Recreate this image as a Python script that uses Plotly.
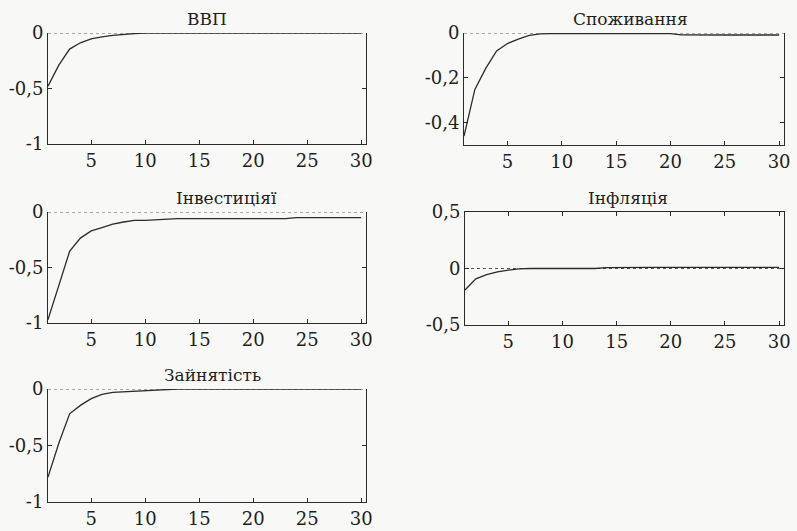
import plotly.graph_objects as go

# Impulse responses over 30 periods
periods = list(range(1, 31))

gdp = [-0.48, -0.29, -0.145, -0.088, -0.053, -0.034, -0.022, -0.013, -0.005, -0.002,
       -0.001, 0, 0, 0, 0, 0, 0, 0, 0, 0, 0, 0, 0, 0, 0, 0, 0, 0, 0, 0]

consumption = [-0.46, -0.252, -0.158, -0.08, -0.047, -0.027, -0.011, -0.004, -0.003, -0.003,
               -0.003, -0.003, -0.003, -0.003, -0.003, -0.003, -0.003, -0.003, -0.003, -0.003,
               -0.008, -0.009, -0.009, -0.009, -0.009, -0.009, -0.009, -0.009, -0.009, -0.009]

investment = [-0.97, -0.66, -0.355, -0.235, -0.17, -0.14, -0.11, -0.09, -0.075, -0.075,
              -0.07, -0.06, -0.06, -0.06, -0.06, -0.06, -0.06, -0.06, -0.06, -0.06,
              -0.06, -0.06, -0.06, -0.05, -0.05, -0.05, -0.05, -0.05, -0.05, -0.05]

inflation = [-0.19, -0.092, -0.054, -0.03, -0.015, -0.004, 0, 0, 0, 0,
             0, 0, 0, 0.008, 0.01, 0.01, 0.01, 0.01, 0.01, 0.01,
             0.01, 0.01, 0.01, 0.01, 0.01, 0.01, 0.01, 0.01, 0.01, 0.01]

employment = [-0.78, -0.48, -0.22, -0.145, -0.085, -0.047, -0.03, -0.025, -0.017, -0.01,
              -0.006, -0.003, 0, 0, 0, 0, 0, 0, 0, 0, 0, 0, 0, 0, 0, 0, 0, 0, 0, 0]

titles = ["ВВП", "Споживання", "Інвестиціяї", "Інфляція", "Зайнятість"]
series = [gdp, consumption, investment, inflation, employment]

x_ticks = [5, 10, 15, 20, 25, 30]
x_labels = ["5", "10", "15", "20", "25", "30"]

y_ranges = [[-1, 0], [-0.5, 0], [-1, 0], [-0.5, 0.5], [-1, 0]]
y_ticks = [[-1, -0.5, 0], [-0.4, -0.2, 0], [-1, -0.5, 0], [-0.5, 0, 0.5], [-1, -0.5, 0]]
y_labels = [["-1", "-0,5", "0"], ["-0,4", "-0,2", "0"], ["-1", "-0,5", "0"],
            ["-0,5", "0", "0,5"], ["-1", "-0,5", "0"]]

W, H = 797, 531
# panel boxes in pixels: left, right, top, bottom
boxes = [(48, 366, 33, 144), (464, 784, 33, 145), (48, 366, 212, 323),
         (465, 784, 212, 325), (48, 366, 389, 502)]
title_pos = [0.5, 0.52, 0.56, 0.51, 0.517]

FONT = "DejaVu Serif"
INK = "#2b2b2b"
BG = "#f8f8f6"

fig = go.Figure()
layout = {}
for i, (vals, box) in enumerate(zip(series, boxes)):
    n = "" if i == 0 else str(i + 1)
    xa, ya = "xaxis" + n, "yaxis" + n
    xr, yr = "x" + n, "y" + n
    l, r, t, b = box
    fig.add_trace(go.Scatter(x=periods, y=vals, mode="lines", xaxis=xr, yaxis=yr,
                             line=dict(color=INK, width=1.3), showlegend=False,
                             hoverinfo="skip"))
    top_frame = "ticks" if i == 3 else False
    layout[xa] = dict(domain=[l / W, r / W], anchor=yr, range=[1, 30.45],
                      tickvals=x_ticks, ticktext=x_labels, ticks="inside", ticklen=4,
                      tickcolor=INK, showline=True, linecolor=INK, linewidth=1,
                      mirror=top_frame, showgrid=False, zeroline=False,
                      automargin=False, tickfont=dict(family=FONT, size=18))
    layout[ya] = dict(domain=[1 - b / H, 1 - t / H], anchor=xr, range=y_ranges[i],
                      tickvals=y_ticks[i], ticktext=y_labels[i], ticks="inside", ticklen=4,
                      tickcolor=INK, showline=True, linecolor=INK, linewidth=1,
                      mirror="ticks", showgrid=False, zeroline=False,
                      automargin=False, tickfont=dict(family=FONT, size=18))
    # dotted zero reference line
    fig.add_shape(type="line", xref=xr + " domain", yref=yr, x0=0, x1=1, y0=0, y1=0,
                  line=dict(color="#555555", width=1, dash="dot"), layer="below")
    fig.add_annotation(text=titles[i], xref=xr + " domain", yref=yr + " domain",
                       x=title_pos[i], y=1, xanchor="center", yanchor="bottom",
                       yshift=2, showarrow=False, font=dict(family=FONT, size=17))

fig.update_layout(width=W, height=H, margin=dict(l=0, r=0, t=0, b=0),
                  font=dict(family=FONT, size=18, color="#1e1e1e"),
                  paper_bgcolor=BG, plot_bgcolor=BG, **layout)
fig.write_html("out.html")
